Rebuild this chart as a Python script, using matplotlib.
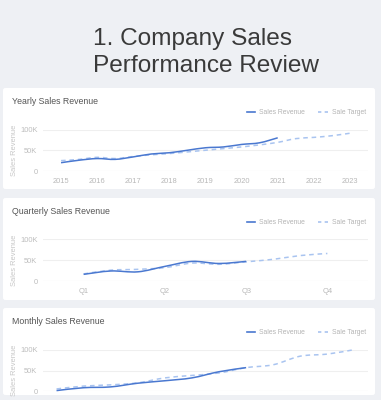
import numpy as np
import matplotlib
matplotlib.use("Agg")
import matplotlib.pyplot as plt
from matplotlib.path import Path
from matplotlib.patches import PathPatch, FancyBboxPatch
from matplotlib.lines import Line2D

# ---------------- data ----------------
yearly_ticks = ["2015", "2016", "2017", "2018", "2019", "2020", "2021", "2022", "2023"]
yearly_rev_x = [2015, 2015.5, 2016, 2016.5, 2017, 2017.5, 2018, 2018.5, 2019, 2019.5, 2020, 2020.5, 2021]
yearly_rev = [20, 26, 30, 28, 34, 41, 44, 50, 56, 58, 64, 68, 80]
yearly_tgt_x = [2015, 2015.5, 2016, 2016.5, 2017, 2017.5, 2018, 2018.5, 2019, 2019.5, 2020,
                2020.5, 2021, 2021.5, 2022, 2022.5, 2023]
yearly_tgt = [25, 28, 33, 30, 35, 39, 42, 46, 50, 54, 58, 63, 69, 78, 81, 85, 91]

quarter_ticks = ["Q1", "Q2", "Q3", "Q4"]
quarter_rev_x = [0, 1, 2, 3, 4, 5, 6]
quarter_rev = [16, 24, 22, 35, 47, 42, 47]
quarter_tgt_x = [0, 1, 2, 3, 4, 5, 6, 7, 8, 9]
quarter_tgt = [17, 26, 28, 32, 43, 40, 46, 52, 61, 66]

month_rev_x = [0, 1, 2, 3, 4, 5, 6, 7]
month_rev = [1, 8, 10, 19, 25, 32, 47, 57]
month_tgt_x = [0, 1, 2, 3, 4, 5, 6, 7, 8, 9, 10, 11]
month_tgt = [5, 12, 15, 20, 32, 38, 44, 57, 64, 85, 90, 101]

y_ticks = [0, 50, 100]
y_tick_labels = ["0", "50K", "100K"]

# ---------------- style ----------------
W, H = 381, 400
BG = "#eef0f4"
CARD = "#ffffff"
BLUE = "#4a78d0"
LIGHT = "#a9c4f0"
FONT = ["Liberation Sans", "DejaVu Sans"]

fig = plt.figure(figsize=(W / 100, H / 100), dpi=100)
fig.patch.set_facecolor(BG)


def fx(x):
    return x / W


def fy(y):
    return 1 - y / H


def card(top, bottom):
    p = FancyBboxPatch((fx(3), fy(bottom)), fx(372), (bottom - top) / H,
                       boxstyle="round,pad=0,rounding_size=0.006",
                       transform=fig.transFigure, facecolor=CARD, edgecolor="none", zorder=-5)
    fig.patches.append(p)


def smooth_path(xs, ys, s=1 / 6):
    pts = np.column_stack([xs, ys]).astype(float)
    n = len(pts)
    verts = [pts[0]]
    codes = [Path.MOVETO]
    for i in range(n - 1):
        p0 = pts[i - 1] if i > 0 else pts[i]
        p1 = pts[i]
        p2 = pts[i + 1]
        p3 = pts[i + 2] if i + 2 < n else pts[i + 1]
        c1 = p1 + (p2 - p0) * s
        c2 = p2 - (p3 - p1) * s
        verts += [c1, c2, p2]
        codes += [Path.CURVE4] * 3
    return Path(verts, codes)


def panel(title, top_px, bot_px, card_top, card_bot, xlim, xt, xtl,
          rx, ry, tx, ty):
    card(card_top, card_bot)
    ax = fig.add_axes([fx(43), fy(bot_px), fx(325), (bot_px - top_px) / H])
    ax.set_zorder(2)
    ax.set_facecolor("none")
    ax.set_xlim(*xlim)
    ax.set_ylim(0, 100)
    for s in ax.spines.values():
        s.set_visible(False)
    for v in y_ticks:
        ax.axhline(v, color="#e3e3e3" if v == 0 else "#efefef", lw=0.8, zorder=1)
    ax.set_yticks(y_ticks)
    ax.set_yticklabels(y_tick_labels, fontsize=5.4, color="#bdbdbd", family=FONT)
    ax.tick_params(axis="y", length=0, pad=4)
    if xtl:
        ax.set_xticks(xt)
        ax.set_xticklabels(xtl, fontsize=5.4, color="#b8b8b8", family=FONT)
    else:
        ax.set_xticks([])
    ax.tick_params(axis="x", length=0, pad=5)
    ax.add_patch(PathPatch(smooth_path(tx, ty), facecolor="none", edgecolor=LIGHT,
                           lw=1.1, linestyle=(0, (3, 2.5)), zorder=2, clip_on=False))
    ax.add_patch(PathPatch(smooth_path(rx, ry), facecolor="none", edgecolor=BLUE,
                           lw=1.1, zorder=3, clip_on=False))
    # y label
    fig.text(fx(15), fy((top_px + bot_px) / 2), "Sales Revenue", rotation=90,
             ha="center", va="center", fontsize=5.4, color="#c6c6c6", family=FONT)
    # card title
    fig.text(fx(12), fy(card_top + 14), title, ha="left", va="center",
             fontsize=6.3, color="#555555", family=FONT)
    # legend
    ly = card_top + 24
    fig.add_artist(Line2D([fx(247), fx(255)], [fy(ly), fy(ly)], color=BLUE, lw=1.2,
                          transform=fig.transFigure))
    fig.text(fx(259), fy(ly), "Sales Revenue", ha="left", va="center",
             fontsize=4.9, color="#b4b4b4", family=FONT)
    fig.add_artist(Line2D([fx(318), fx(328)], [fy(ly), fy(ly)], color=LIGHT, lw=1.2,
                          linestyle=(0, (2, 2)), transform=fig.transFigure))
    fig.text(fx(332), fy(ly), "Sale Target", ha="left", va="center",
             fontsize=4.9, color="#b4b4b4", family=FONT)
    return ax


# main title
fig.text(fx(93), fy(45.5), "1. Company Sales", ha="left", va="baseline",
         fontsize=17.6, color="#3a3a3a", family=FONT)
fig.text(fx(93), fy(71.5), "Performance Review", ha="left", va="baseline",
         fontsize=17.6, color="#3a3a3a", family=FONT)

panel("Yearly Sales Revenue", 129.5, 171, 88, 189, (2014.5, 2023.5),
      list(range(2015, 2024)), yearly_ticks,
      yearly_rev_x, yearly_rev, yearly_tgt_x, yearly_tgt)

panel("Quarterly Sales Revenue", 239.3, 281, 198, 300, (-1.5, 10.5),
      [0, 3, 6, 9], quarter_ticks,
      quarter_rev_x, quarter_rev, quarter_tgt_x, quarter_tgt)

panel("Monthly Sales Revenue", 350, 391, 308, 395, (-0.5, 11.5),
      None, None,
      month_rev_x, month_rev, month_tgt_x, month_tgt)

fig.savefig("out.png", dpi=100, facecolor=BG)
